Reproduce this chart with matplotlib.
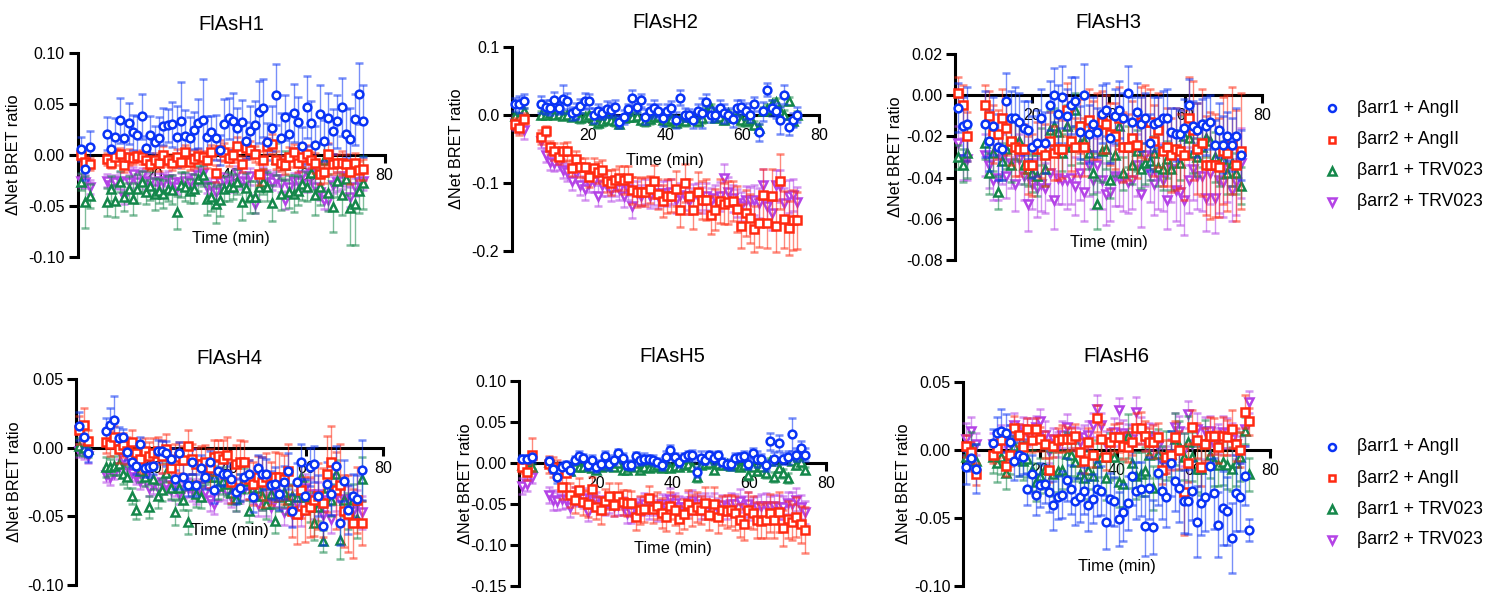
import matplotlib
matplotlib.use("Agg")
import matplotlib.pyplot as plt
import numpy as np
from matplotlib.colors import to_rgba
from matplotlib.ticker import FormatStrFormatter

plt.rcParams['font.family'] = ['Liberation Sans', 'DejaVu Sans']
plt.rcParams['axes.unicode_minus'] = False

# ---------------- data (values and SEM in units of 0.001) ----------------
time_min = [0.8, 2.0, 3.2,
            7.7, 8.8, 9.9, 11.1, 12.2, 13.3, 14.5, 15.6, 16.7, 17.9,
            19.0, 20.1, 21.3, 22.4, 23.5, 24.7, 25.8, 26.9, 28.0, 29.2,
            30.3, 31.4, 32.6, 33.7, 34.8, 36.0, 37.1, 38.2, 39.4, 40.5,
            41.6, 42.8, 43.9, 45.0, 46.2, 47.3, 48.4, 49.5, 50.7, 51.8,
            52.9, 54.1, 55.2, 56.3, 57.5, 58.6, 59.7, 60.9, 62.0, 63.1,
            64.3, 65.4, 66.5, 67.7, 68.8, 69.9, 71.0, 72.2, 73.3, 74.4]

series_names = ["βarr1 + AngII", "βarr2 + AngII", "βarr1 + TRV023", "βarr2 + TRV023"]
panel_titles = ["FlAsH1", "FlAsH2", "FlAsH3", "FlAsH4", "FlAsH5", "FlAsH6"]

# FlAsH1
h1_b1_ang = [6, -14, 8,
 21, 6, 18, 34, 17, 31, 22, 20, 38, 7,
 20, 13, 17, 28, 29, 30, 18, 33, 19, 17,
 24, 31, 34, 18, 22, 17, 5, 30, 36, 33,
 26, 32, 14, 23, 29, 42, 46, 13, 26, 59,
 17, 37, 21, 41, 32, 9, 47, 31, 10, 40,
 14, 36, 23, 33, 47, 21, 16, 35, 60, 33]
h1_b2_ang = [0, -7, -9,
 -4, -8, -2, 1, -10, -2, -3, -1, -2, -5,
 -9, -5, -8, 0, -5, -8, -2, -7, 3, -7,
 -4, -1, -2, -5, 3, -18, 5, 3, -3, 0,
 9, -9, 7, 5, 1, -19, -5, 9, 11, -5,
 -8, -10, -2, 3, -8, -2, 1, -5, -8, -19,
 -17, 1, -9, -8, -8, -9, -17, -8, -15, -14]
h1_b1_trv = [-26, -46, -40,
 -46, -33, -45, -26, -41, -33, -43, -33, -26, -36,
 -30, -38, -35, -38, -33, -34, -56, -29, -31, -35,
 -33, -23, -20, -43, -41, -48, -44, -33, -31, -31,
 -26, -46, -32, -41, -41, -31, -26, -31, -47, -4,
 -38, -10, -36, -38, -35, -28, -31, -18, -39, -31,
 -5, -37, -51, -25, -39, -23, -52, -48, -35, -27]
h1_b2_trv = [-25, -26, -31,
 -25, -29, -26, -25, -41, -26, -19, -26, -20, -25,
 -26, -33, -25, -26, -23, -26, -31, -26, -25, -26,
 -22, -20, -18, -31, -30, -36, -26, -25, -25, -28,
 -18, -25, -26, -21, -48, -25, -20, -22, -26, -23,
 -28, -44, -31, -25, -26, -20, -28, -18, -31, -36,
 -44, -44, -29, -26, -25, -21, -41, -31, -26, -25]
h1_b1_ang_err = [12, 10, 15,
 16, 14, 18, 22, 15, 20, 17, 18, 22, 12,
 18, 15, 20, 18, 16, 22, 30, 38, 25, 20,
 18, 24, 40, 20, 16, 22, 15, 25, 20, 28,
 20, 22, 18, 25, 24, 30, 28, 18, 22, 30,
 24, 22, 20, 28, 25, 18, 30, 22, 18, 28,
 20, 25, 22, 26, 28, 24, 30, 25, 30, 35]
h1_b2_ang_err = [5, 6, 6,
 6, 5, 8, 6, 7, 8, 6, 5, 7, 8,
 6, 7, 8, 9, 6, 7, 8, 6, 7, 8,
 9, 7, 6, 8, 7, 8, 10, 9, 8, 7,
 9, 8, 10, 9, 8, 10, 9, 8, 10, 9,
 8, 9, 10, 8, 9, 10, 9, 8, 10, 9,
 10, 11, 10, 9, 12, 10, 11, 10, 9, 10]
h1_b1_trv_err = [8, 25, 12,
 14, 12, 16, 10, 14, 12, 16, 14, 10, 12,
 14, 16, 12, 14, 12, 14, 16, 12, 14, 12,
 14, 12, 10, 16, 14, 18, 16, 12, 14, 12,
 12, 18, 14, 16, 16, 14, 12, 14, 18, 16,
 16, 14, 16, 18, 14, 16, 14, 16, 20, 18,
 16, 18, 24, 16, 20, 16, 36, 40, 22, 26]
h1_b2_trv_err = [6, 6, 7,
 6, 7, 6, 8, 7, 6, 7, 6, 7, 8,
 7, 6, 7, 8, 7, 6, 7, 8, 7, 6,
 7, 8, 7, 6, 8, 7, 8, 7, 6, 8,
 7, 8, 7, 8, 9, 7, 8, 7, 8, 7,
 8, 9, 8, 7, 8, 9, 8, 7, 9, 8,
 9, 10, 8, 9, 8, 9, 10, 9, 8, 9]

# FlAsH2
h2_b1_ang = [15, 15, 20,
 15, 11, 10, 21, 10, 23, 20, 2, 5, 13,
 20, 20, -1, 5, 2, 8, 7, 11, -11, -3,
 8, 25, 12, 21, -3, 5, 10, 6, -5, 6,
 10, -8, 25, 0, 0, -8, 5, 2, 18, 0,
 0, 10, 2, 0, -7, 10, 11, 5, 0, 16,
 -26, 5, 37, 10, 6, -8, 29, -18, -8, 0]
h2_b2_ang = [-13, -20, -6,
 -33, -24, -48, -54, -62, -54, -54, -78, -65, -77,
 -77, -91, -78, -85, -81, -98, -100, -96, -93, -96,
 -93, -111, -114, -113, -113, -110, -98, -116, -127, -119,
 -119, -109, -140, -101, -120, -140, -114, -125, -125, -147,
 -140, -127, -131, -129, -127, -139, -164, -145, -152, -168,
 -159, -118, -160, -120, -164, -98, -154, -167, -155, -155]
h2_b1_trv = [-2, -3, 5,
 0, 0, 2, 0, 1, -2, -1, -3, -2, -5,
 -3, -1, -8, -12, -10, -6, -8, -10, -14, -5,
 -4, -3, -2, -8, -10, -6, -4, -2, -8, -10,
 -6, -12, -8, -10, -3, -4, -10, -5, 5, 10,
 -5, -3, -8, 2, -5, -2, -8, -10, -6, -15,
 -20, 5, 8, 15, 18, 5, 0, 20, -10, 0]
h2_b2_trv = [-12, -15, -22,
 -39, -59, -70, -71, -71, -81, -85, -97, -86, -104,
 -110, -100, -98, -119, -103, -105, -111, -105, -109, -119,
 -109, -135, -115, -119, -113, -120, -115, -120, -115, -115,
 -113, -125, -118, -120, -127, -120, -120, -125, -120, -127,
 -123, -120, -93, -113, -123, -130, -135, -125, -127, -125,
 -130, -103, -135, -145, -103, -105, -130, -120, -118, -129]
h2_b1_ang_err = [10, 12, 10,
 12, 10, 11, 12, 9, 20, 12, 10, 12, 10,
 12, 10, 11, 10, 9, 12, 10, 11, 9, 10,
 8, 12, 10, 9, 11, 10, 12, 10, 11, 9,
 10, 12, 11, 10, 9, 12, 10, 22, 12, 11,
 10, 12, 14, 10, 11, 12, 10, 12, 11, 10,
 12, 14, 10, 12, 11, 20, 14, 12, 10, 11]
h2_b1_trv_err = [5, 5, 5,
 6, 5, 6, 5, 6, 5, 6, 5, 6, 7,
 6, 5, 6, 7, 6, 5, 6, 7, 6, 5,
 6, 7, 6, 5, 6, 7, 6, 5, 6, 7,
 6, 5, 6, 7, 6, 5, 6, 7, 6, 5,
 6, 7, 6, 5, 6, 7, 8, 6, 7, 6,
 7, 6, 8, 7, 6, 8, 7, 6, 7, 6]
h2_b2_ang_err = [8, 10, 8,
 10, 8, 10, 12, 10, 12, 14, 12, 12, 14,
 14, 16, 14, 16, 15, 16, 18, 16, 18, 20,
 18, 20, 22, 20, 22, 20, 24, 22, 24, 25,
 24, 26, 25, 28, 26, 28, 30, 28, 30, 28,
 30, 32, 30, 32, 30, 34, 32, 34, 36, 34,
 36, 38, 36, 40, 38, 40, 42, 40, 44, 42]
h2_b2_trv_err = [10, 12, 14,
 10, 10, 12, 12, 11, 12, 12, 14, 13, 14,
 15, 14, 16, 15, 16, 14, 16, 15, 16, 17,
 16, 17, 18, 16, 18, 17, 18, 17, 18, 19,
 18, 19, 18, 20, 19, 18, 20, 19, 20, 19,
 20, 21, 20, 22, 20, 21, 22, 20, 21, 22,
 22, 23, 22, 24, 22, 23, 22, 24, 23, 22]

# FlAsH3
h3_b1_ang = [-6, -15, -14,
 -14, -22, -15, -25, -26, -3, -11, -11, -13, -16,
 -17, -25, -23, -11, -23, -5, 0, -9, -1, -10,
 -5, -3, -18, 0, -19, -14, -18, -9, -7, -21,
 -10, -7, -11, 1, -13, -8, -14, -11, -23, -14,
 -13, -11, -11, -18, -19, -19, -16, -5, -15, -17,
 -14, -15, -13, -24, -17, -24, -20, -24, -20, -29]
h3_b2_ang = [1, -5, -20,
 -5, -10, -19, -19, -11, -16, -22, -25, -26, -26,
 -34, -34, -26, -26, -29, -22, -28, -26, -26, -7,
 -22, -25, -15, -25, -12, -17, -15, -13, -14, -19,
 -20, -11, -25, -25, -21, -24, -13, -13, -13, -22,
 -17, -27, -25, -29, -26, -27, -29, -11, -17, -26,
 -23, -34, -34, -34, -35, -27, -28, -22, -34, -27]
h3_b1_trv = [-30, -34, -28,
 -23, -38, -28, -47, -32, -26, -34, -22, -22, -34,
 -36, -38, -39, -25, -36, -17, -15, -18, -28, -15,
 -25, -7, -23, -22, -28, -38, -53, -27, -26, -41,
 -29, -15, -38, -25, -34, -27, -36, -33, -32, -28,
 -35, -36, -31, -36, -26, -33, -20, -21, -28, -30,
 -25, -21, -22, -30, -34, -31, -38, -33, -38, -44]
h3_b2_trv = [-23, -31, -31,
 -29, -34, -41, -40, -31, -39, -33, -43, -31, -39,
 -53, -43, -45, -43, -45, -38, -51, -40, -41, -41,
 -40, -44, -38, -47, -34, -41, -34, -41, -48, -47,
 -39, -40, -40, -42, -41, -34, -48, -29, -38, -43,
 -39, -41, -51, -36, -46, -47, -51, -41, -36, -39,
 -39, -50, -38, -50, -41, -42, -36, -46, -42, -33]
h3_b1_ang_err = [12, 14, 18,
 16, 15, 14, 16, 15, 14, 13, 15, 14, 13,
 14, 15, 16, 14, 15, 12, 13, 14, 15, 13,
 14, 12, 13, 15, 14, 13, 12, 14, 13, 12,
 13, 14, 12, 13, 12, 14, 13, 12, 14, 13,
 12, 13, 14, 12, 13, 12, 14, 13, 12, 13,
 12, 14, 13, 12, 13, 14, 12, 13, 14, 12]
h3_b2_ang_err = [8, 10, 12,
 10, 12, 14, 12, 14, 13, 12, 14, 13, 12,
 14, 15, 13, 14, 15, 14, 13, 15, 14, 13,
 15, 14, 13, 14, 15, 14, 16, 15, 14, 15,
 16, 15, 17, 16, 18, 16, 17, 18, 16, 17,
 18, 17, 19, 18, 20, 18, 22, 20, 24, 22,
 26, 24, 26, 25, 24, 26, 28, 26, 27, 28]
h3_b1_trv_err = [6, 8, 12,
 8, 10, 9, 8, 9, 10, 8, 9, 10, 9,
 8, 9, 10, 9, 8, 10, 9, 8, 9, 10,
 9, 8, 10, 9, 8, 10, 12, 15, 10, 9,
 10, 9, 8, 10, 9, 10, 9, 10, 9, 8,
 9, 10, 9, 10, 9, 8, 10, 9, 10, 9,
 10, 9, 10, 12, 10, 9, 10, 11, 10, 9]
h3_b2_trv_err = [8, 10, 10,
 10, 11, 10, 11, 12, 11, 12, 13, 12, 12,
 13, 12, 14, 13, 12, 13, 14, 13, 12, 14,
 13, 14, 13, 14, 15, 14, 13, 14, 15, 14,
 15, 14, 16, 15, 14, 15, 16, 15, 14, 15,
 16, 15, 14, 16, 15, 16, 17, 16, 15, 16,
 17, 16, 15, 17, 16, 17, 16, 15, 16, 17]

# FlAsH4
h4_b1_ang = [16, 8, -4,
 12, 17, 20, 7, 8, -3, -10, -13, 3, -15,
 -14, -13, -2, -2, -4, -8, -23, -4, -21, -27,
 -10, -27, -15, -21, -10, -31, -17, -19, -19, -23,
 -32, -29, -21, -19, -36, -15, -19, -19, -27, -26,
 -34, -25, -17, -46, -25, -10, -35, -14, -12, -35,
 -57, -26, -34, -13, -55, -24, -45, -35, -37, -16]
h4_b2_ang = [13, 17, 5,
 4, 3, 8, -1, 2, -2, 4, -4, -8, -2,
 -6, -4, -2, -6, -1, -15, -9, -7, -9, 1,
 -8, -12, -12, -10, -15, -7, -6, -8, -5, -25,
 -12, -10, -10, -23, -26, -21, -25, -21, -26, -21,
 -21, -23, -17, -46, -48, -31, -45, -43, -38, -35,
 -40, -19, -10, -31, -27, -46, -48, -55, -38, -55]
h4_b1_trv = [1, 0, -1,
 -14, -14, -13, -12, -19, -21, -35, -45, -17, -21,
 -43, -23, -35, -31, -18, -29, -47, -29, -38, -54,
 -27, -34, -36, -19, -21, -21, -28, -24, -26, -33,
 -37, -29, -24, -46, -29, -29, -35, -41, -34, -53,
 -36, -32, -38, -35, -36, -21, -36, -43, -55, -43,
 -68, -29, -38, -19, -67, -38, -46, -38, -52, -23]
h4_b2_trv = [-2, -3, -6,
 -20, -21, -18, -14, -8, -14, -18, -21, -24, -21,
 -29, -27, -29, -25, -27, -31, -27, -34, -31, -29,
 -31, -34, -31, -32, -38, -41, -31, -29, -32, -36,
 -38, -31, -30, -28, -32, -41, -37, -41, -43, -34,
 -35, -47, -37, -48, -41, -48, -29, -34, -42, -34,
 -49, -38, -52, -34, -38, -37, -40, -46, -41, -47]
h4_b1_ang_err = [10, 8, 6,
 10, 12, 18, 8, 6, 6, 5, 6, 5, 6,
 7, 6, 8, 7, 9, 8, 7, 8, 9, 8,
 9, 8, 10, 9, 8, 9, 10, 9, 8, 10,
 9, 10, 9, 10, 11, 10, 12, 11, 10, 12,
 11, 12, 13, 12, 14, 13, 12, 14, 13, 15,
 14, 16, 15, 14, 16, 15, 18, 16, 17, 22]
h4_b2_ang_err = [10, 12, 8,
 8, 9, 8, 10, 9, 10, 9, 8, 10, 9,
 10, 11, 10, 12, 11, 10, 12, 11, 10, 12,
 11, 12, 13, 12, 14, 13, 12, 14, 13, 15,
 14, 16, 15, 14, 16, 15, 18, 17, 16, 18,
 17, 18, 20, 19, 22, 20, 24, 22, 26, 24,
 25, 28, 26, 28, 30, 26, 28, 25, 24, 16]
h4_b1_trv_err = [6, 6, 6,
 7, 6, 7, 8, 7, 8, 6, 7, 8, 7,
 8, 7, 9, 8, 7, 8, 9, 8, 7, 9,
 8, 9, 8, 7, 9, 8, 9, 10, 9, 8,
 9, 10, 9, 8, 10, 9, 10, 11, 10, 9,
 10, 11, 10, 9, 11, 10, 12, 11, 12, 10,
 8, 11, 12, 10, 14, 12, 13, 12, 14, 16]
h4_b2_trv_err = [5, 5, 5,
 5, 6, 5, 6, 5, 6, 6, 5, 6, 7,
 6, 7, 6, 7, 6, 7, 8, 7, 6, 7,
 8, 7, 8, 7, 8, 7, 8, 9, 8, 7,
 8, 9, 8, 9, 8, 9, 8, 9, 10, 9,
 8, 9, 10, 9, 10, 9, 10, 11, 10, 9,
 10, 11, 10, 12, 10, 11, 12, 11, 10, 12]

# FlAsH5
h5_b1_ang = [5, 5, 7,
 2, -7, -17, -5, -3, -9, 3, 8, 6, -3,
 4, -5, -2, 8, -2, 3, 12, 6, -3, -3,
 8, 3, 5, 5, 3, 1, -3, 7, 16, 7,
 1, 7, 9, 9, -11, 6, 4, 9, 6, 9,
 1, -2, -2, 6, 7, 8, -1, 12, 5, 5,
 -3, 26, 5, 24, 5, 7, 35, 10, 18, 10]
h5_b2_ang = [-5, -11, 10,
 -2, -5, -9, -30, -13, -39, -45, -33, -48, -50,
 -32, -54, -58, -47, -40, -51, -40, -48, -49, -49,
 -66, -58, -56, -43, -56, -52, -61, -66, -52, -58,
 -69, -62, -50, -58, -54, -57, -49, -64, -50, -66,
 -58, -59, -58, -61, -70, -75, -57, -61, -70, -71,
 -70, -61, -70, -60, -79, -69, -72, -66, -75, -82]
h5_b1_trv = [-3, -5, -5,
 1, -3, -5, -7, -6, -10, 2, -5, -5, -4,
 -6, -9, -5, -4, -2, -5, 0, -9, -9, -5,
 0, -9, -5, -6, -5, -3, -6, -4, -6, -4,
 -5, -3, -1, -5, -17, -3, -1, 0, -9, -2,
 -3, -1, -4, -2, -5, -3, -15, -5, -10, -5,
 -13, 2, -17, -6, -13, -18, 2, -3, 1, -9]
h5_b2_trv = [-28, -26, -17,
 -39, -45, -47, -44, -45, -54, -40, -42, -43, -60,
 -44, -46, -50, -52, -50, -52, -51, -53, -61, -60,
 -56, -53, -50, -56, -52, -58, -50, -54, -44, -49,
 -54, -54, -49, -46, -50, -54, -50, -53, -51, -56,
 -51, -54, -50, -50, -46, -54, -50, -56, -54, -52,
 -52, -54, -52, -54, -54, -49, -50, -45, -54, -60]
h5_b1_ang_err = [5, 5, 6,
 5, 6, 7, 6, 5, 6, 5, 6, 5, 6,
 5, 6, 5, 6, 7, 6, 5, 6, 5, 6,
 5, 6, 7, 5, 6, 5, 6, 7, 6, 5,
 6, 5, 6, 7, 6, 8, 5, 6, 7, 6,
 5, 6, 7, 6, 5, 6, 7, 6, 10, 6,
 7, 10, 8, 10, 7, 8, 20, 8, 9, 8]
h5_b2_ang_err = [8, 10, 20,
 10, 12, 12, 14, 12, 15, 16, 14, 15, 16,
 15, 14, 16, 15, 16, 14, 16, 15, 16, 15,
 16, 17, 16, 15, 17, 16, 18, 17, 16, 18,
 17, 18, 17, 19, 18, 17, 19, 18, 20, 19,
 18, 20, 19, 21, 20, 19, 21, 20, 22, 21,
 22, 23, 22, 24, 22, 23, 22, 24, 23, 28]
h5_b1_trv_err = [3, 3, 3,
 4, 3, 4, 3, 4, 5, 3, 4, 3, 4,
 3, 4, 3, 4, 3, 4, 3, 4, 3, 4,
 3, 4, 3, 4, 3, 4, 3, 4, 3, 4,
 3, 4, 3, 4, 6, 3, 4, 3, 4, 3,
 4, 3, 4, 3, 4, 3, 6, 4, 5, 4,
 5, 4, 6, 5, 5, 6, 4, 5, 4, 4]
h5_b2_trv_err = [10, 8, 8,
 10, 12, 11, 12, 10, 12, 11, 10, 12, 11,
 12, 11, 10, 12, 11, 13, 12, 11, 12, 13,
 12, 11, 13, 12, 11, 13, 12, 14, 13, 12,
 13, 12, 14, 13, 12, 14, 13, 12, 14, 13,
 12, 14, 13, 12, 14, 13, 15, 14, 13, 14,
 15, 14, 13, 15, 14, 13, 15, 14, 15, 14]

# FlAsH6
h6_b1_ang = [-13, -6, -14,
 5, 12, 14, 12, 6, -8, -4, -5, -29, -18,
 -33, -26, -25, -31, -41, -35, -33, -22, -29, -38,
 -35, -30, -41, -36, -29, -30, -53, -36, -38, -51,
 -46, -39, -19, -30, -29, -56, -28, -57, -17, -30,
 -35, -10, -23, -28, -38, -38, -30, -53, -39, -35,
 -12, -32, -55, -43, -45, -65, -32, -35, -19, -59]
h6_b2_ang = [3, -2, -18,
 -4, 1, 7, -12, -4, 16, 11, 2, 15, 7,
 15, 8, 4, -15, 3, 7, 8, 8, 8, 10,
 -2, -8, 6, -4, 23, 8, -5, 6, 9, 9,
 3, 2, 6, 16, 16, 10, 6, 6, 9, -15,
 -5, -4, 9, 0, -31, -10, 17, 7, -13, 4,
 10, 10, 2, 10, 9, 15, 4, 0, 28, 21]
h6_b1_trv = [-5, 1, -8,
 -5, -10, -5, -17, -4, 3, -7, -8, -7, -15,
 -24, -19, -14, -15, -18, -16, -15, -3, -4, -9,
 -18, -21, -15, -19, -10, -5, -21, -5, -5, -24,
 -25, 10, -10, -19, -18, -16, -4, -28, -3, -14,
 -4, -3, 8, 3, -5, 6, -5, -14, -14, 4,
 -4, -9, -11, -9, -11, -14, -10, -5, 14, -18]
h6_b2_trv = [8, 14, 4,
 4, 3, 10, 4, 8, 18, 11, 15, 13, 14,
 17, 21, 11, -1, 8, 4, 11, 17, 9, 8,
 6, 9, 11, 18, 30, 18, 4, 6, 13, 29,
 12, 10, 8, 28, 14, 8, 10, 8, 3, -8,
 -7, -3, 17, 14, 0, 26, 4, 15, 4, 14,
 14, 4, 8, 13, 12, 8, 4, 0, 15, 35]
h6_b1_ang_err = [12, 10, 18,
 10, 12, 16, 14, 12, 14, 15, 13, 12, 14,
 15, 16, 14, 15, 18, 16, 17, 16, 18, 17,
 18, 17, 19, 18, 20, 18, 20, 19, 18, 20,
 21, 20, 22, 21, 20, 22, 23, 20, 24, 21,
 22, 24, 22, 25, 23, 24, 22, 26, 24, 25,
 22, 26, 24, 27, 25, 26, 28, 25, 22, 8]
h6_b2_ang_err = [8, 8, 8,
 6, 7, 8, 7, 8, 9, 8, 9, 8, 9,
 8, 9, 10, 9, 8, 9, 10, 9, 8, 9,
 10, 9, 10, 9, 10, 11, 10, 9, 10, 11,
 10, 11, 10, 11, 12, 11, 10, 12, 11, 10,
 12, 11, 12, 14, 32, 14, 12, 13, 14, 12,
 14, 13, 12, 14, 13, 14, 12, 13, 12, 10]
h6_b1_trv_err = [10, 12, 12,
 12, 14, 13, 12, 14, 13, 12, 14, 13, 15,
 14, 13, 15, 14, 16, 15, 14, 16, 15, 14,
 16, 15, 14, 16, 17, 15, 16, 17, 16, 18,
 17, 16, 18, 17, 16, 18, 17, 16, 18, 17,
 18, 17, 19, 18, 17, 19, 18, 17, 19, 18,
 17, 18, 16, 17, 18, 16, 17, 18, 10, 12]
h6_b2_trv_err = [12, 10, 8,
 8, 9, 8, 9, 10, 9, 8, 9, 10, 9,
 8, 9, 10, 9, 8, 9, 10, 9, 8, 9,
 10, 9, 10, 9, 10, 9, 10, 9, 10, 9,
 10, 9, 10, 11, 10, 9, 10, 11, 10, 9,
 10, 11, 10, 11, 12, 10, 11, 12, 11, 10,
 11, 12, 11, 12, 11, 12, 11, 10, 12, 8]

# ---------------- styling ----------------
W, H = 1493, 593
colors = ['#0a33f5', '#ff2a12', '#14874a', '#b443e6']
markers = ['o', 's', '^', 'v']
msizes = [5.6, 5.3, 6.0, 6.0]
draw_order = [3, 2, 1, 0]  # purple first, blue on top

panels = [
    # title, series, errors, ylim, yticks, fmt, (x0px, x1px, ytop_px, ybot_px), ylabel_x_px, xlabel_y_px, title_y_px
    ("FlAsH1", [h1_b1_ang, h1_b2_ang, h1_b1_trv, h1_b2_trv],
     [h1_b1_ang_err, h1_b2_ang_err, h1_b1_trv_err, h1_b2_trv_err],
     (-0.10, 0.10), [-0.10, -0.05, 0.0, 0.05, 0.10], '%.2f', (77.5, 384.5, 52.7, 257.3), 13.5, 239, 24),
    ("FlAsH2", [h2_b1_ang, h2_b2_ang, h2_b1_trv, h2_b2_trv],
     [h2_b1_ang_err, h2_b2_ang_err, h2_b1_trv_err, h2_b2_trv_err],
     (-0.2, 0.1), [-0.2, -0.1, 0.0, 0.1], '%.1f', (511.7, 819.0, 46.7, 250.7), 456.7, 161, 23),
    ("FlAsH3", [h3_b1_ang, h3_b2_ang, h3_b1_trv, h3_b2_trv],
     [h3_b1_ang_err, h3_b2_ang_err, h3_b1_trv_err, h3_b2_trv_err],
     (-0.08, 0.02), [-0.08, -0.06, -0.04, -0.02, 0.0, 0.02], '%.2f', (955.0, 1262.0, 54.0, 260.0), 895, 243, 23),
    ("FlAsH4", [h4_b1_ang, h4_b2_ang, h4_b1_trv, h4_b2_trv],
     [h4_b1_ang_err, h4_b2_ang_err, h4_b1_trv_err, h4_b2_trv_err],
     (-0.10, 0.05), [-0.10, -0.05, 0.0, 0.05], '%.2f', (76.0, 383.0, 379.3, 585.0), 15, 531, 358),
    ("FlAsH5", [h5_b1_ang, h5_b2_ang, h5_b1_trv, h5_b2_trv],
     [h5_b1_ang_err, h5_b2_ang_err, h5_b1_trv_err, h5_b2_trv_err],
     (-0.15, 0.10), [-0.15, -0.10, -0.05, 0.0, 0.05, 0.10], '%.2f', (519.3, 826.3, 380.7, 586.0), 465, 548, 356),
    ("FlAsH6", [h6_b1_ang, h6_b2_ang, h6_b1_trv, h6_b2_trv],
     [h6_b1_ang_err, h6_b2_ang_err, h6_b1_trv_err, h6_b2_trv_err],
     (-0.10, 0.05), [-0.10, -0.05, 0.0, 0.05], '%.2f', (963.3, 1270.3, 381.7, 585.7), 903.3, 567, 357),
]

fig = plt.figure(figsize=(W / 100, H / 100), dpi=100)
fig.patch.set_facecolor('white')

# overlay in pixel coordinates for titles / labels / legend
ov = fig.add_axes([0, 0, 1, 1], zorder=5)
ov.set_xlim(0, W)
ov.set_ylim(H, 0)
ov.axis('off')
ov.patch.set_alpha(0)

t = np.array(time_min)
for (title, series, errs, ylim, yticks, fmt, box, ylab_x, xlab_y, title_y) in panels:
    x0, x1, yt, yb = box
    ax = fig.add_axes([x0 / W, 1 - yb / H, (x1 - x0) / W, (yb - yt) / H])
    ax.patch.set_alpha(0)
    ax.set_xlim(0, 80)
    ax.set_ylim(*ylim)
    for s in ('top', 'right'):
        ax.spines[s].set_visible(False)
    ax.spines['left'].set_linewidth(2.2)
    ax.spines['bottom'].set_linewidth(2.2)
    ax.spines['bottom'].set_position(('data', 0))
    ax.set_xticks([20, 40, 60, 80])
    ax.set_yticks(yticks)
    ax.yaxis.set_major_formatter(FormatStrFormatter(fmt))
    ax.tick_params(axis='y', length=6.5, width=2.2, labelsize=11.5, pad=2.5)
    ax.tick_params(axis='x', length=6.0, width=2.2, labelsize=11.5, pad=3.5)
    for i in draw_order:
        v = np.array(series[i]) * 1e-3
        e = np.array(errs[i]) * 1e-3
        assert len(v) == len(t) and len(e) == len(t), (title, i, len(v), len(e))
        ax.errorbar(t, v, yerr=e, fmt=markers[i], ms=msizes[i], mfc='white', mec=colors[i],
                    mew=1.8, ecolor=to_rgba(colors[i], 0.55), elinewidth=1.0, capsize=2.6,
                    capthick=1.0, clip_on=False, zorder=3 + (3 - i) * 0.1)
    xc = (x0 + x1) / 2
    ov.text(xc, title_y, title, ha='center', va='center', fontsize=14.5)
    ov.text(xc, xlab_y, "Time (min)", ha='center', va='center', fontsize=11.7)
    ov.text(ylab_x, (yt + yb) / 2, "ΔNet BRET ratio", ha='center', va='center',
            rotation=90, fontsize=11.7)

# legends
for ys in ([108.3, 140.0, 170.7, 201.7], [446.7, 478.3, 509.0, 540.0]):
    for i in range(4):
        ov.plot([1331.7], [ys[i]], marker=markers[i], ms=msizes[i] * 0.9, mfc='white',
                mec=colors[i], mew=1.8, ls='none', clip_on=False)
        ov.text(1357, ys[i], series_names[i], ha='left', va='center', fontsize=12.7)

fig.savefig('out.png', dpi=100, facecolor='white')
